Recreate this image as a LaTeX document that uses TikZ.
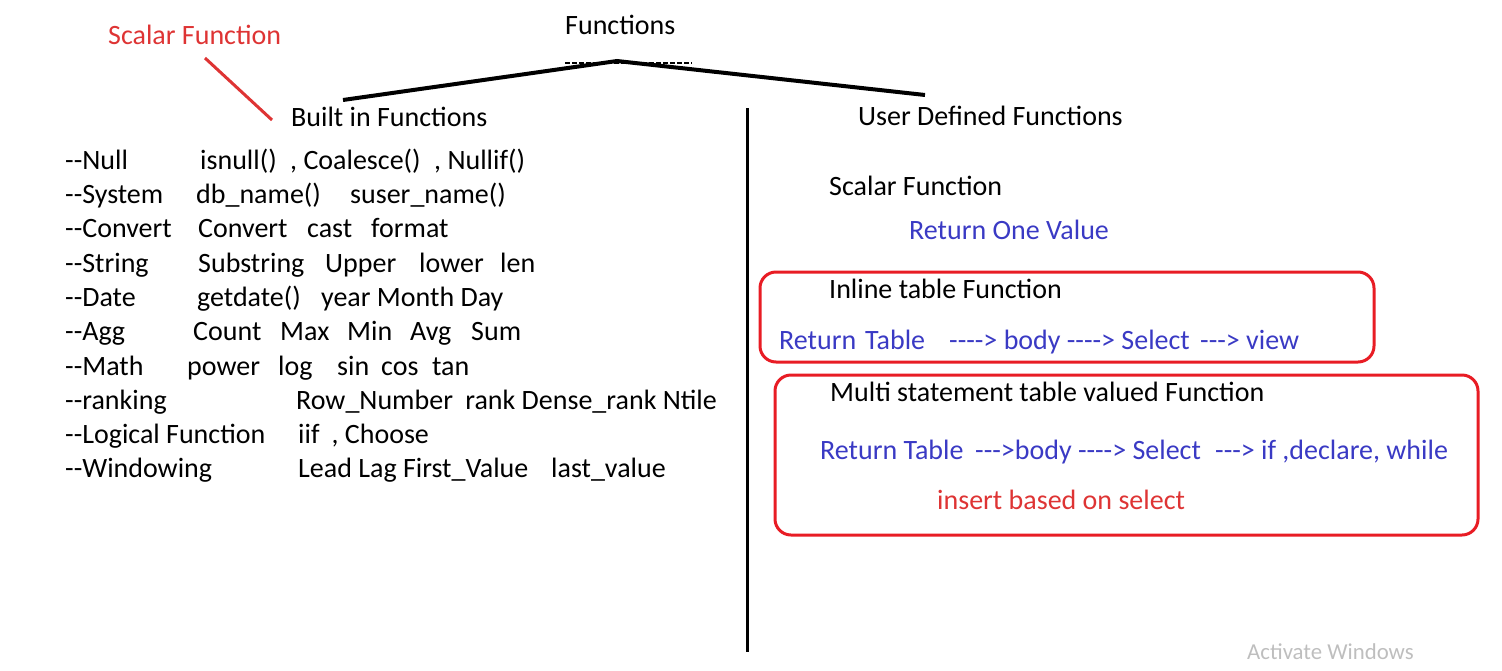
\documentclass[tikz,border=0pt]{standalone}
\usepackage{fontspec}
\setmainfont{Carlito}[Ligatures=TeXOff]
\newfontfamily\wmfont{Carlito}
\definecolor{redtxt}{RGB}{222,52,52}
\definecolor{redbox}{RGB}{232,28,36}
\definecolor{bluetxt}{RGB}{58,58,196}
\definecolor{graytxt}{RGB}{190,190,190}
\begin{document}
\begin{tikzpicture}[x=1pt,y=-1pt,
  txt/.style={anchor=base west,inner sep=0pt,font=\fontsize{28}{34}\selectfont},
  bl/.style={txt,text=bluetxt},
  rd/.style={txt,text=redtxt},
  box/.style={draw=redbox,line width=3pt,rounded corners=16pt}]
\useasboundingbox (0,0) rectangle (1502,670);
% title
\node[txt] (fn) at (565,34) {Functions};
\coordinate (apex) at (617,61);
\coordinate (bl) at (343,100);
\coordinate (br) at (925,95);
\draw[line width=1.2pt,dash pattern=on 5pt off 2pt] (565,63) -- (692,63);
\draw[line width=4pt] (bl) -- (apex) -- (br);
\node[rd] (sf) at (108,44) {Scalar Function};
\coordinate (ra) at (205,58);
\coordinate (rb) at (272,120);
\draw[redtxt,line width=3pt] (ra) -- (rb);
\node[txt] (bif) at (291,126) {Built in Functions};
\node[txt] (udf) at (858,125) {User Defined Functions};
\coordinate (va) at (747,108);
\coordinate (vb) at (747,652);
\draw[line width=3pt] (va) -- (vb);
% left list
\node[txt] (l1) at (65,169) {--Null};
\node[txt] (l1a) at (200,169) {isnull()};
\node[txt] (l1b) at (290,169) {, Coalesce()};
\node[txt] (l1c) at (434,169) {, Nullif()};
\node[txt] (l2) at (65,203) {--System};
\node[txt] (l2a) at (196,203) {db\_name()};
\node[txt] (l2b) at (350,203) {suser\_name()};
\node[txt] (l3) at (65,237) {--Convert};
\node[txt] (l3a) at (198,237) {Convert};
\node[txt] (l3b) at (307,237) {cast};
\node[txt] (l3c) at (371,237) {format};
\node[txt] (l4) at (65,272) {--String};
\node[txt] (l4a) at (198,272) {Substring};
\node[txt] (l4b) at (325,272) {Upper};
\node[txt] (l4c) at (419,272) {lower};
\node[txt] (l4d) at (500,272) {len};
\node[txt] (l5) at (65,306) {--Date};
\node[txt] (l5a) at (197,306) {getdate()};
\node[txt] (l5b) at (321,306) {year Month Day};
\node[txt] (l6) at (65,340) {--Agg};
\node[txt] (l6a) at (193,340) {Count};
\node[txt] (l6b) at (280,340) {Max};
\node[txt] (l6c) at (347,340) {Min};
\node[txt] (l6d) at (410,340) {Avg};
\node[txt] (l6e) at (471,340) {Sum};
\node[txt] (l7) at (65,375) {--Math};
\node[txt] (l7a) at (187,375) {power};
\node[txt] (l7b) at (278,375) {log};
\node[txt] (l7c) at (337,375) {sin};
\node[txt] (l7d) at (381,375) {cos};
\node[txt] (l7e) at (432,375) {tan};
\node[txt] (l8) at (65,409) {--ranking};
\node[txt] (l8a) at (296,409) {Row\_Number\hspace{6pt} rank Dense\_rank Ntile};
\node[txt] (l9) at (65,443) {--Logical Function};
\node[txt] (l9a) at (298,443) {iif\hspace{12pt}, Choose};
\node[txt] (l10) at (65,477) {--Windowing};
\node[txt] (l10a) at (298,477) {Lead Lag First\_Value};
\node[txt] (l10b) at (551,477) {last\_value};
% right side
\node[txt] (rs) at (829,195) {Scalar Function};
\node[bl] (rov) at (909,239) {Return One Value};
\draw[box] (760,272) rectangle (1374,362);
\node[txt] (itf) at (829,298) {Inline table Function};
\node[bl] (i1) at (779,349) {Return};
\node[bl] (i2) at (865,349) {Table};
\node[bl] (i3) at (949,349) {----> body ----> Select};
\node[bl] (i4) at (1200,349) {---> view};
\draw[box] (775,375) rectangle (1478,535);
\node[txt] (mst) at (830,401) {Multi statement table valued Function};
\node[bl] (m1) at (820,459) {Return Table};
\node[bl] (m1b) at (975,459) {--->body ----> Select};
\node[bl] (m2) at (1215,459) {---> if ,declare, while};
\node[rd] (ins) at (937,509) {insert based on select};
\node[anchor=base west,inner sep=0pt,font=\wmfont\fontsize{22.8}{26}\selectfont,text=graytxt] (aw) at (1247,659) {Activate Windows};
\end{tikzpicture}
\end{document}
